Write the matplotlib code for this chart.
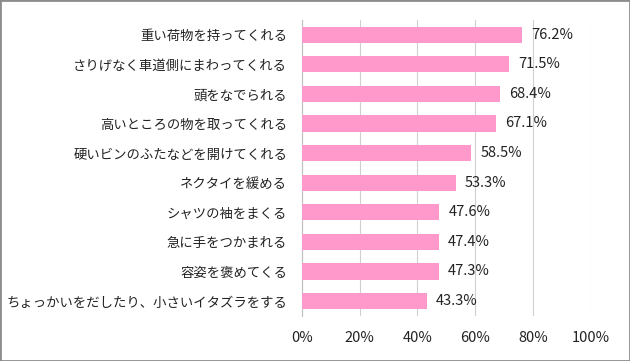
import matplotlib
matplotlib.use("Agg")
import matplotlib.pyplot as plt
from matplotlib.patches import Rectangle

plt.rcParams['font.family'] = ['Noto Sans CJK JP', 'DejaVu Sans']

# data
labels = ['重い荷物を持ってくれる', 'さりげなく車道側にまわってくれる', '頭をなでられる',
          '高いところの物を取ってくれる', '硬いビンのふたなどを開けてくれる', 'ネクタイを緩める',
          'シャツの袖をまくる', '急に手をつかまれる', '容姿を褒めてくる',
          'ちょっかいをだしたり、小さいイタズラをする']
values = [76.2, 71.5, 68.4, 67.1, 58.5, 53.3, 47.6, 47.4, 47.3, 43.3]
xticks = [0, 20, 40, 60, 80, 100]

fig = plt.figure(figsize=(6.3, 3.61), dpi=100)
fig.patches.append(Rectangle((0, 0), 1, 1, transform=fig.transFigure, fill=False,
                             edgecolor='#8c8c8c', linewidth=2))
ax = fig.add_axes([0.479, 0.125, 0.459, 0.82])

y = list(range(len(labels)))
ax.barh(y, values, height=0.55, color='#FF99CC', zorder=3)
for yi, v in zip(y, values):
    ax.text(v + 3.2, yi, f'{v:.1f}%', va='center', ha='left', fontsize=10.5, color='#222222')

ax.set_xlim(0, 100)
ax.set_ylim(len(labels) - 0.5, -0.5)
ax.set_yticks(y)
ax.set_yticklabels(labels, fontsize=9.6, color='#222222')
ax.set_xticks(xticks)
ax.set_xticklabels([f'{t}%' for t in xticks], fontsize=10.5, color='#222222')
ax.tick_params(axis='both', length=0)
ax.tick_params(axis='x', pad=11)
ax.tick_params(axis='y', pad=10.5)
ax.grid(axis='x', color='#d0d0d0', linewidth=0.8, zorder=0)
for s in ['top', 'right', 'bottom']:
    ax.spines[s].set_visible(False)
ax.spines['left'].set_color('#bfbfbf')

fig.savefig('out.png', dpi=100)
